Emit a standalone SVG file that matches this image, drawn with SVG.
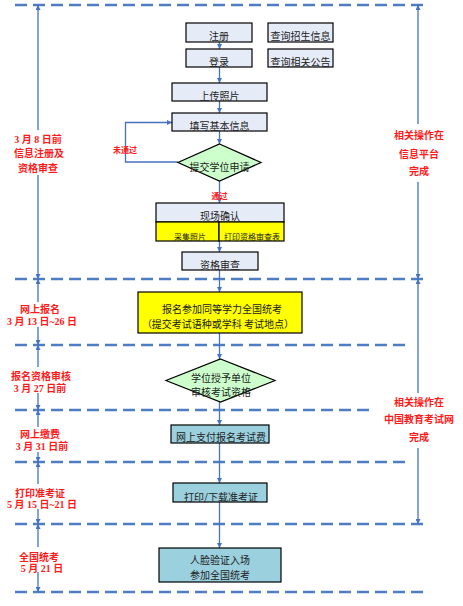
<svg xmlns="http://www.w3.org/2000/svg" width="463" height="606" viewBox="0 0 463 606">
<style>
.dash{stroke:#4F7DC4;stroke-width:2.6;stroke-dasharray:12 6;fill:none}
.ln{stroke:#4472C4;stroke-width:1.3;fill:none}
.box{stroke:#000;stroke-width:1.2}
.lt{fill:#E6ECF7}
.yl{fill:#FFFF00}
.gr{fill:#CCFFCC}
.tl{fill:#9BD0DE}
.t{font-family:"Noto Sans CJK SC",sans-serif;font-size:10px;fill:#222;text-anchor:middle}
.ts{font-family:"Noto Sans CJK SC",sans-serif;font-size:8px;fill:#222;text-anchor:middle}
.r{font-family:"Liberation Serif","Noto Sans CJK SC",serif;font-size:10px;font-weight:bold;fill:#FF1A1A;text-anchor:middle}
.rs{font-family:"Noto Sans CJK SC",sans-serif;font-size:8px;font-weight:bold;fill:#FF1A1A;text-anchor:middle}
</style>
<defs>
<marker id="ah" viewBox="0 0 10 10" refX="10" refY="5" markerWidth="5" markerHeight="5" markerUnits="userSpaceOnUse" orient="auto">
<path d="M0,0 L10,5 L0,10 z" fill="#4472C4"/>
</marker>
</defs>
<g id="dashes">
<line class="dash" x1="15" y1="5" x2="423" y2="5"/>
<line class="dash" x1="15" y1="279" x2="425" y2="279"/>
<line class="dash" x1="15" y1="345" x2="410" y2="345"/>
<line class="dash" x1="15" y1="410" x2="372" y2="410"/>
<line class="dash" x1="15" y1="462" x2="410" y2="462"/>
<line class="dash" x1="15" y1="524" x2="425" y2="524"/>
<line class="dash" x1="15" y1="592" x2="425" y2="592"/>
</g>
<g id="connectors">
<line class="ln" x1="38" y1="130" x2="38" y2="5" marker-end="url(#ah)"/>
<line class="ln" x1="38" y1="175" x2="38" y2="279" marker-end="url(#ah)"/>
<line class="ln" x1="38" y1="302" x2="38" y2="279" marker-end="url(#ah)"/>
<line class="ln" x1="38" y1="327" x2="38" y2="345" marker-end="url(#ah)"/>
<line class="ln" x1="38" y1="367" x2="38" y2="345" marker-end="url(#ah)"/>
<line class="ln" x1="38" y1="393" x2="38" y2="410" marker-end="url(#ah)"/>
<line class="ln" x1="38" y1="427" x2="38" y2="410" marker-end="url(#ah)"/>
<line class="ln" x1="38" y1="452" x2="38" y2="462" marker-end="url(#ah)"/>
<line class="ln" x1="38" y1="484" x2="38" y2="462" marker-end="url(#ah)"/>
<line class="ln" x1="38" y1="509" x2="38" y2="524" marker-end="url(#ah)"/>
<line class="ln" x1="38" y1="547" x2="38" y2="524" marker-end="url(#ah)"/>
<line class="ln" x1="38" y1="572" x2="38" y2="592" marker-end="url(#ah)"/>
<line class="ln" x1="418" y1="124" x2="418" y2="5" marker-end="url(#ah)"/>
<line class="ln" x1="418" y1="182" x2="418" y2="279" marker-end="url(#ah)"/>
<line class="ln" x1="418" y1="393" x2="418" y2="279" marker-end="url(#ah)"/>
<line class="ln" x1="418" y1="448" x2="418" y2="524" marker-end="url(#ah)"/>
<line class="ln" x1="219.5" y1="42" x2="219.5" y2="49" marker-end="url(#ah)"/>
<line class="ln" x1="219.5" y1="67" x2="219.5" y2="83" marker-end="url(#ah)"/>
<line class="ln" x1="219.5" y1="101" x2="219.5" y2="113" marker-end="url(#ah)"/>
<line class="ln" x1="219.5" y1="131" x2="219.5" y2="144" marker-end="url(#ah)"/>
<line class="ln" x1="219.5" y1="181" x2="219.5" y2="203" marker-end="url(#ah)"/>
<line class="ln" x1="219.5" y1="241" x2="219.5" y2="252" marker-end="url(#ah)"/>
<line class="ln" x1="219.5" y1="270" x2="219.5" y2="292" marker-end="url(#ah)"/>
<line class="ln" x1="219.5" y1="333" x2="219.5" y2="359" marker-end="url(#ah)"/>
<line class="ln" x1="219.5" y1="402" x2="219.5" y2="425" marker-end="url(#ah)"/>
<line class="ln" x1="219.5" y1="443" x2="219.5" y2="483" marker-end="url(#ah)"/>
<line class="ln" x1="219.5" y1="502" x2="219.5" y2="548" marker-end="url(#ah)"/>
<polyline class="ln" points="178,162 125.5,162 125.5,122.5 172,122.5" marker-end="url(#ah)"/>
</g>
<g id="n-zhuce"><rect class="box lt" x="186" y="23" width="66" height="19"/><text class="t" x="219" y="40">注册</text></g>
<g id="n-chaxun1"><rect class="box lt" x="268" y="23" width="65" height="19"/><text class="t" x="300.5" y="40">查询招生信息</text></g>
<g id="n-denglu"><rect class="box lt" x="186" y="49" width="66" height="18"/><text class="t" x="219" y="66">登录</text></g>
<g id="n-chaxun2"><rect class="box lt" x="268" y="49" width="65" height="18"/><text class="t" x="300.5" y="66">查询相关公告</text></g>
<g id="n-shangchuan"><rect class="box lt" x="172" y="83" width="95" height="18"/><text class="t" x="219.5" y="100">上传照片</text></g>
<g id="n-tianxie"><rect class="box lt" x="172" y="113" width="95" height="18"/><text class="t" x="219.5" y="130">填写基本信息</text></g>
<g id="n-tijiao"><polygon class="box gr" points="219.5,144 261,162.5 219.5,181 178,162.5" stroke-width="1"/><text class="t" x="219.5" y="171">提交学位申请</text></g>
<g id="l-weitongguo"><text class="rs" x="125" y="153">未通过</text></g>
<g id="l-tongguo"><text class="rs" x="219.5" y="199">通过</text></g>
<g id="n-xianchang">
<rect class="box lt" x="156" y="203" width="128" height="19"/><text class="t" x="220" y="219.5">现场确认</text>
<rect class="box yl" x="156" y="222" width="63" height="19"/><text class="ts" x="190" y="240">采集照片</text>
<rect class="box yl" x="219" y="222" width="65" height="19"/><text class="ts" x="252" y="240">打印资格审查表</text>
</g>
<g id="n-zige"><rect class="box lt" x="182" y="252" width="76" height="18"/><text class="t" x="220" y="269">资格审查</text></g>
<g id="n-baoming"><rect class="box yl" x="138" y="292" width="164" height="41"/><text class="t" x="222" y="313">报名参加同等学力全国统考</text><text class="t" x="218" y="327.5">（提交考试语种或学科  考试地点）</text></g>
<g id="n-shenhe"><polygon class="box gr" points="220.5,359 275,380.5 220.5,402 166,380.5" stroke-width="1"/><text class="t" x="221" y="381.5" font-size="9.5">学位授予单位</text><text class="t" x="221" y="395.5" font-size="9.5">审核考试资格</text></g>
<g id="n-zhifu"><rect class="box tl" x="171" y="425" width="98" height="18"/><text class="t" x="221" y="441">网上支付报名考试费</text></g>
<g id="n-dayin"><rect class="box tl" x="173" y="483" width="94" height="19"/><text class="t" x="221" y="500.5">打印/下载准考证</text></g>
<g id="n-renlian"><rect class="box tl" x="159" y="548" width="122" height="34"/><text class="t" x="220" y="564">人脸验证入场</text><text class="t" x="220" y="578.5">参加全国统考</text></g>
<g id="labels-left">
<text class="r" x="38" y="143">3 月 8 日前</text>
<text class="r" x="39" y="157">信息注册及</text>
<text class="r" x="38" y="172">资格审查</text>
<text class="r" x="40" y="313">网上报名</text>
<text class="r" x="42" y="325">3 月 13 日~26 日</text>
<text class="r" x="41" y="380">报名资格审核</text>
<text class="r" x="40" y="392">3 月 27 日前</text>
<text class="r" x="40" y="438">网上缴费</text>
<text class="r" x="42" y="450">3 月 31 日前</text>
<text class="r" x="40" y="497">打印准考证</text>
<text class="r" x="42" y="508">5 月 15 日~21 日</text>
<text class="r" x="39" y="561">全国统考</text>
<text class="r" x="42" y="572">5 月 21 日</text>
</g>
<g id="labels-right">
<text class="r" x="419" y="139">相关操作在</text>
<text class="r" x="419" y="158">信息平台</text>
<text class="r" x="419" y="175">完成</text>
<text class="r" x="419" y="406">相关操作在</text>
<text class="r" x="419" y="423">中国教育考试网</text>
<text class="r" x="419" y="441">完成</text>
</g>
</svg>
